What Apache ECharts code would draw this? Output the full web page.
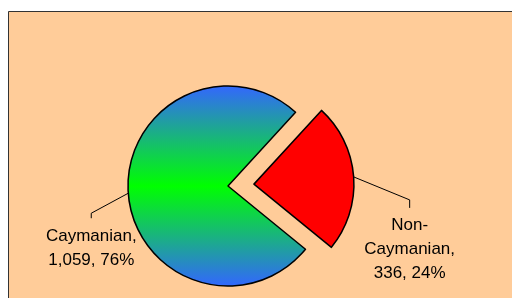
<!DOCTYPE html>
<html style="height: 100%">
<head>
    <meta charset="utf-8">
    <script src="https://cdn.jsdelivr.net/npm/echarts@6/dist/echarts.min.js"></script>
    <title>Caymanian vs Non-Caymanian</title>
</head>
<body style="height: 100%; margin: 0; background: #ffffff">
<div id="container" style="width: 512px; height: 298px"></div>
<script type="text/javascript">

    // data
    let categories = ['Caymanian', 'Non-\nCaymanian']
    let values = [1059, 336]
    let percents = ['76%', '24%']
    let exploded = [false, true]

    let cx = 228, cy = 186, r = 100, start = 47.5, explode = 26

    // where the leader line bends, relative to the slice edge point
    let leader = [
        {mid: [-37, 20], end: [-37, 25], label: [-37, 31]},
        {mid: [56, 23], end: [56, 31], label: [56, 36]}
    ]

    let blueGreen = new echarts.graphic.LinearGradient(0, 0, 0, 1, [
        {offset: 0, color: '#3366ff'},
        {offset: 0.5, color: '#00ff00'},
        {offset: 1, color: '#3366ff'}
    ])
    let colors = [blueGreen, '#ff0000']

    // bisector angle, edge point and shift of each slice
    let total = values.reduce((a, b) => a + b, 0)
    let edges = [], shifts = []
    let cum = 0
    for (let i = 0; i < values.length; i++) {
        let mid = (start + (cum + values[i] / 2) / total * 360) * Math.PI / 180
        let off = exploded[i] ? explode : 0
        shifts.push([off * Math.cos(mid), -off * Math.sin(mid)])
        edges.push([cx + (r + off) * Math.cos(mid), cy - (r + off) * Math.sin(mid)])
        cum += values[i]
    }

    // one pie series per slice, the other slices kept as invisible spacers
    let series = categories.map(function (c, k) {
        return {
            type: 'pie',
            center: [cx + shifts[k][0], cy + shifts[k][1]],
            radius: r,
            startAngle: start,
            clockwise: false,
            silent: true,
            emphasis: {disabled: true},
            data: categories.map(function (name, i) {
                let on = i === k
                return {
                    name: name,
                    value: values[i],
                    itemStyle: on
                        ? {color: colors[i], borderColor: '#000000', borderWidth: 1.5}
                        : {color: 'rgba(0,0,0,0)', borderWidth: 0},
                    label: {show: on},
                    labelLine: {show: on}
                }
            }),
            label: {
                color: '#000000',
                fontFamily: 'Liberation Sans, Arial, sans-serif',
                fontSize: 17,
                lineHeight: 24,
                align: 'center',
                overflow: 'none',
                formatter: function (p) {
                    return p.name + ',\n' + p.value.toLocaleString('en-US') + ', ' + percents[p.dataIndex]
                }
            },
            labelLine: {
                lineStyle: {color: '#000000', width: 1}
            },
            labelLayout: function (params) {
                let s = edges[params.dataIndex]
                let l = leader[params.dataIndex]
                return {
                    x: s[0] + l.label[0],
                    y: s[1] + l.label[1],
                    align: 'center',
                    verticalAlign: 'top',
                    labelLinePoints: [
                        [s[0], s[1]],
                        [s[0] + l.mid[0], s[1] + l.mid[1]],
                        [s[0] + l.end[0], s[1] + l.end[1]]
                    ]
                }
            }
        }
    })

    let dom = document.getElementById("container");
    let chart = echarts.init(dom, null, {renderer: 'canvas'});
    chart.setOption({
        animation: false,
        graphic: [{
            type: 'rect',
            shape: {x: 8.5, y: 11.5, width: 520, height: 300},
            style: {fill: '#ffcc99', stroke: '#333333', lineWidth: 1},
            z: -10
        }],
        series: series
    });

</script>
</body>
</html>
